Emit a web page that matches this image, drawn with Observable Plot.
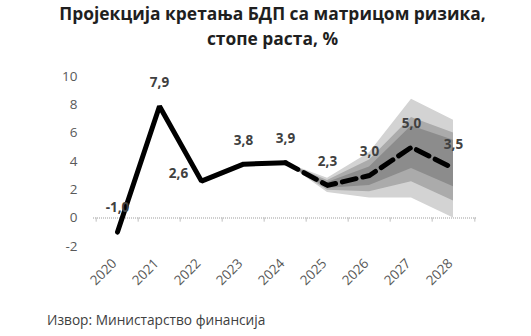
<!DOCTYPE html>
<html>
<head>
<meta charset="utf-8">
<script src="https://cdn.jsdelivr.net/npm/d3@7"></script>
<script src="https://cdn.jsdelivr.net/npm/@observablehq/plot@0.6"></script>
<style>
  body { margin: 0; background: #fff; width: 531px; height: 336px; overflow: hidden; }
  #title { font-family: "Open Sans", sans-serif; font-weight: 700; font-size: 17.4px; color: #1f1f1f; text-align: center; line-height: 25px; padding-top: 1px; height: 54px; box-sizing: border-box; padding-left: 14px; }
  #caption { font-family: "Open Sans", sans-serif; font-size: 13.7px; color: #404040; margin-left: 47px; margin-top: 6px; }
  svg { display: block; }
</style>
</head>
<body>
<div id="title">Пројекција кретања БДП са матрицом ризика,<br>стопе раста, %</div>
<div id="chart"></div>
<div id="caption">Извор: Министарство финансија</div>
<script>
const years = ["2020","2021","2022","2023","2024","2025","2026","2027","2028"];
const actualYears = ["2020","2021","2022","2023","2024"];
const actualValues = [-1.0, 7.9, 2.6, 3.8, 3.9];
const projYears = ["2024","2025","2026","2027","2028"];
const projValues = [3.9, 2.3, 3.0, 5.0, 3.5];
const outerLow  = [3.9, 1.8, 1.4, 1.4, 0.0];
const outerHigh = [3.9, 2.8, 4.6, 8.4, 6.9];
const midLow    = [3.9, 1.95, 1.85, 2.55, 1.2];
const midHigh   = [3.9, 2.65, 4.1, 7.1, 6.0];
const innerLow  = [3.9, 2.1, 2.3, 3.5, 2.2];
const innerHigh = [3.9, 2.5, 3.6, 6.5, 5.5];
const labelYears = ["2020","2021","2022","2023","2024","2025","2026","2027","2028"];
const labelValues = [-1.0, 7.9, 2.6, 3.8, 3.9, 2.3, 3.0, 5.0, 3.5];
const yTicks = [-2, 0, 2, 4, 6, 8, 10];

const actual = actualYears.map((x, i) => ({x, y: actualValues[i]}));
const proj = projYears.map((x, i) => ({x, y: projValues[i]}));
const fan = projYears.map((x, i) => ({x, ol: outerLow[i], oh: outerHigh[i], ml: midLow[i], mh: midHigh[i], il: innerLow[i], ih: innerHigh[i]}));
const labels = labelYears.map((x, i) => ({x, y: labelValues[i], t: labelValues[i].toFixed(1).replace(".", ",")}));
const labelsAbove = labels.filter(d => d.x !== "2022");
const labelsLeft = labels.filter(d => d.x === "2022");

const step = (477 - 93) / years.length;
const fmt = d => String(d);

const plot = Plot.plot({
  width: 531,
  height: 250,
  marginLeft: 93,
  marginRight: 54,
  marginTop: 22,
  marginBottom: 58.3,
  style: { fontFamily: "'Open Sans', sans-serif", background: "transparent" },
  x: { type: "point", domain: years, padding: 0.5, label: null },
  y: { type: "linear", domain: [-2, 10], label: null },
  marks: [
    Plot.areaY(fan, { x: "x", y1: "ol", y2: "oh", fill: "#d3d3d3" }),
    Plot.areaY(fan, { x: "x", y1: "ml", y2: "mh", fill: "#ababab" }),
    Plot.areaY(fan, { x: "x", y1: "il", y2: "ih", fill: "#8c8c8c" }),
    Plot.ruleY([0], { stroke: "#bfbfbf", strokeWidth: 1.5, strokeDasharray: "1,1" }),
    Plot.ruleX(years, { x: d => d, y1: 0, y2: -0.3, dx: -step / 2, stroke: "#bfbfbf", strokeWidth: 1 }),
    Plot.ruleX(years.slice(-1), { x: d => d, y1: 0, y2: -0.3, dx: step / 2, stroke: "#bfbfbf", strokeWidth: 1 }),
    Plot.line(actual, { x: "x", y: "y", stroke: "#000", strokeWidth: 5, strokeLinejoin: "miter" }),
    Plot.line(proj, { x: "x", y: "y", stroke: "#000", strokeWidth: 5, strokeDasharray: "14,7" }),
    Plot.text(labelsAbove, { x: "x", y: "y", text: "t", dy: -24, fill: "#404040", fontWeight: 700, fontSize: 13.5 }),
    Plot.text(labelsLeft, { x: "x", y: "y", text: "t", dx: -23, dy: -7, fill: "#404040", fontWeight: 700, fontSize: 13.5 }),
    Plot.axisY(yTicks, { tickSize: 0, tickPadding: 16, fontSize: 13.5, color: "#595959", tickFormat: fmt }),
    Plot.axisX(years, { tickSize: 0, tickRotate: -45, tickPadding: 15, fontSize: 13.5, color: "#595959", dx: -3 })
  ]
});
document.getElementById("chart").appendChild(plot);
</script>
</body>
</html>
